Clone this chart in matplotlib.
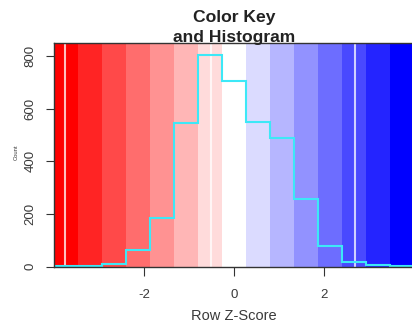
import numpy as np
import matplotlib
matplotlib.use("Agg")
import matplotlib.pyplot as plt

plt.rcParams['font.family'] = ['Liberation Sans', 'DejaVu Sans']
plt.rcParams['axes.unicode_minus'] = False

# colour key breaks (row z-score) and the colour of each band
breaks = [-4.0, -3.467, -2.933, -2.4, -1.867, -1.333, -0.8, -0.267,
          0.267, 0.8, 1.333, 1.867, 2.4, 2.933, 3.467, 4.0]
band_colors = ['#FF0000', '#FF2424', '#FF4949', '#FF6D6D', '#FF9292', '#FFB6B6', '#FFDBDB',
               '#FFFFFF',
               '#DBDBFF', '#B6B6FF', '#9292FF', '#6D6DFF', '#4949FF', '#2424FF', '#0000FF']

# histogram counts per band
counts = [1, 3, 9, 61, 184, 546, 806, 705, 550, 489, 257, 79, 18, 7, 1]

# thin white lines seen in the key
white_lines = [-3.76, -0.51, 2.69]

xticks = [-2, 0, 2]
yticks = [0, 200, 400, 600, 800]

W, H = 412, 329
fig = plt.figure(figsize=(W / 100, H / 100), dpi=100)
ax = fig.add_axes([54 / W, 1 - 266.5 / H, 360 / W, (266.5 - 43) / H])

for i in range(len(band_colors)):
    ax.axvspan(breaks[i], breaks[i + 1], color=band_colors[i], lw=0, zorder=0)

for v in white_lines:
    ax.axvline(v, color='white', alpha=0.75, lw=1.5, zorder=1)

ax.stairs(counts, breaks, baseline=None, color='#3DE8F7', lw=1.5, zorder=2)

ax.set_xlim(-4, 4)
ax.set_ylim(0, 850)

ax.set_xticks(xticks)
ax.set_xticklabels([str(t) for t in xticks], fontsize=9.5, color='#3a3a3a')
ax.set_yticks(yticks)
ax.set_yticklabels([str(t) for t in yticks], fontsize=9.5, color='#3a3a3a',
                   rotation=90, va='center')
ax.tick_params(axis='x', length=6.5, width=0.8, color='#333333', pad=10)
ax.tick_params(axis='y', length=5.5, width=0.8, color='#333333', pad=7)

for s in ax.spines.values():
    s.set_color('#333333')
    s.set_linewidth(1.0)

fig.text(234 / W, 1 - 21.7 / H, 'Color Key', ha='center', va='baseline',
         fontsize=12.6, fontweight='bold', color='#222222')
fig.text(234 / W, 1 - 42.3 / H, 'and Histogram', ha='center', va='baseline',
         fontsize=12.6, fontweight='bold', color='#222222')
fig.text(234 / W, 1 - 316 / H, 'Row Z-Score', ha='center', va='center',
         fontsize=10.5, color='#3a3a3a')
fig.text(16 / W, 1 - 152 / H, 'Count', ha='center', va='center', rotation=90,
         fontsize=4.2, color='#3a3a3a')

fig.savefig('out.png', dpi=100)
